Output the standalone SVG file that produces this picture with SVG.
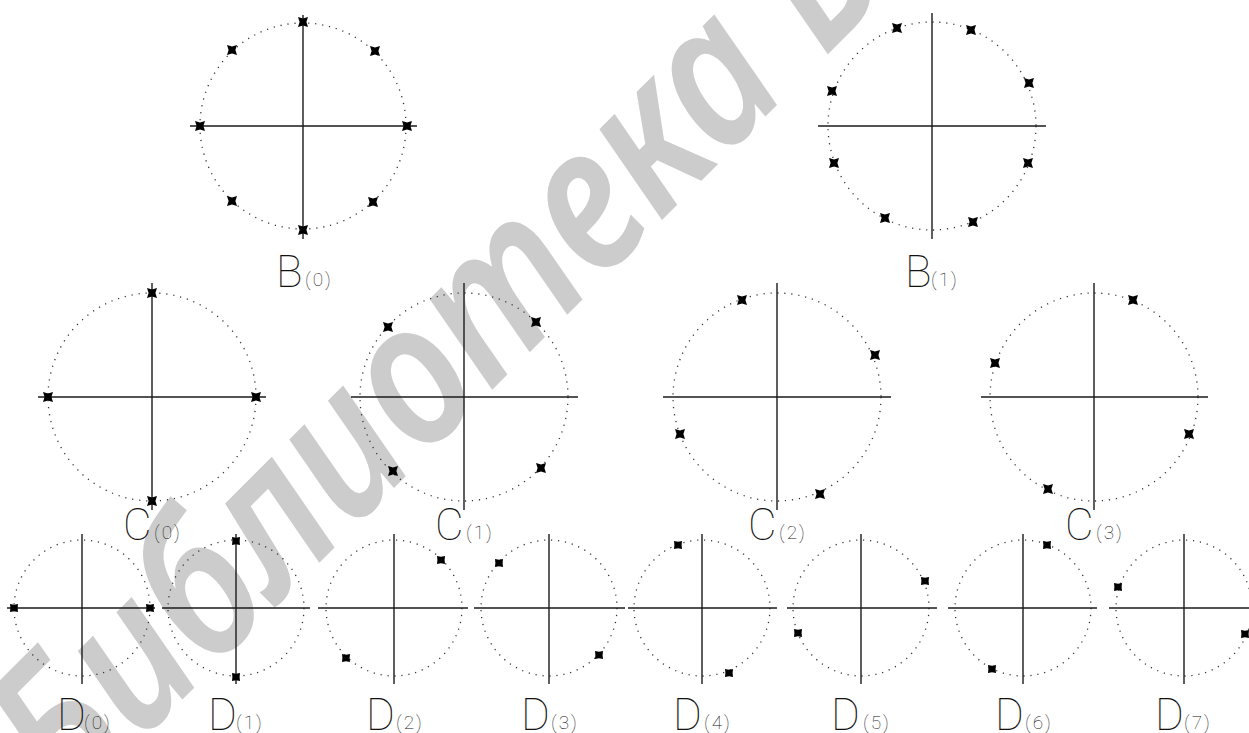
<svg xmlns="http://www.w3.org/2000/svg" xmlns:xlink="http://www.w3.org/1999/xlink" width="1249" height="733" viewBox="0 0 1249 733">
<style>
.ax{stroke:#1a1a1a;stroke-width:1.4;fill:none}
.dc{stroke:#333;stroke-width:1.3;fill:none;stroke-dasharray:1.2 5.8}
.big{font-family:Roboto,"Lato","DejaVu Sans",sans-serif;font-weight:100;font-size:44px;fill:#111}
.sub{font-family:Roboto,"Lato","DejaVu Sans",sans-serif;font-weight:100;font-size:19px;letter-spacing:2px;fill:#111}
.wm{font-family:"Noto Sans","Liberation Sans",sans-serif;font-style:italic;font-weight:600;font-size:200px;fill:#cccccc}
</style>
<defs>
<path id="x" d="M-5,-5 L0,-3.4 L5,-5 L3.4,0 L5,5 L0,3.4 L-5,5 L-3.4,0 Z" fill="#000"/>
<path id="s" d="M-4,-4 L0,-3.2 L4,-4 L3.6,0 L4,4 L0,3.2 L-4,4 L-3.6,0 Z" fill="#000"/>
</defs>
<rect width="1249" height="733" fill="#fff"/>
<text class="wm" transform="translate(69 813) rotate(-45) scale(0.86 1)">Библиотека БГУИР</text>

<g id="B0">
<circle class="dc" cx="303" cy="126" r="103"/>
<line class="ax" x1="190" y1="126" x2="417" y2="126"/><line class="ax" x1="303" y1="15" x2="303" y2="239"/>
<use xlink:href="#x" x="303" y="22"/><use xlink:href="#x" x="375" y="51"/><use xlink:href="#x" x="407" y="126"/><use xlink:href="#x" x="373" y="202"/>
<use xlink:href="#x" x="303" y="230"/><use xlink:href="#x" x="232" y="201"/><use xlink:href="#x" x="200" y="126"/><use xlink:href="#x" x="232" y="50"/>
<text y="287"><tspan class="big" x="276">B</tspan><tspan class="sub" x="305" dy="-1">(0)</tspan></text>
</g>
<g id="B1">
<circle class="dc" cx="932" cy="126" r="104"/>
<line class="ax" x1="818" y1="126" x2="1046" y2="126"/><line class="ax" x1="932" y1="13" x2="932" y2="239"/>
<use xlink:href="#x" x="897" y="28"/><use xlink:href="#x" x="971" y="30"/><use xlink:href="#x" x="1029" y="83"/><use xlink:href="#x" x="832" y="91"/>
<use xlink:href="#x" x="834" y="163"/><use xlink:href="#x" x="1028" y="163"/><use xlink:href="#x" x="885" y="218"/><use xlink:href="#x" x="973" y="222"/>
<text y="287"><tspan class="big" x="905">B</tspan><tspan class="sub" x="931" dy="-1">(1)</tspan></text>
</g>

<g id="C0">
<circle class="dc" cx="152" cy="397" r="104"/>
<line class="ax" x1="38" y1="397" x2="266" y2="397"/><line class="ax" x1="152" y1="283" x2="152" y2="510"/>
<use xlink:href="#x" x="48" y="397"/><use xlink:href="#x" x="256" y="397"/><use xlink:href="#x" x="152" y="293"/><use xlink:href="#x" x="152" y="501"/>
<text y="540"><tspan class="big" x="123">C</tspan><tspan class="sub" x="154" dy="-1">(0)</tspan></text>
</g>
<g id="C1">
<circle class="dc" cx="464" cy="397" r="104"/>
<line class="ax" x1="351" y1="397" x2="578" y2="397"/><line class="ax" x1="464" y1="283" x2="464" y2="510"/>
<use xlink:href="#x" x="388" y="327"/><use xlink:href="#x" x="536" y="322"/><use xlink:href="#x" x="393" y="471"/><use xlink:href="#x" x="541" y="468"/>
<text y="540"><tspan class="big" x="435">C</tspan><tspan class="sub" x="466" dy="-1">(1)</tspan></text>
</g>
<g id="C2">
<circle class="dc" cx="777" cy="397" r="104"/>
<line class="ax" x1="663" y1="397" x2="891" y2="397"/><line class="ax" x1="777" y1="283" x2="777" y2="510"/>
<use xlink:href="#x" x="742" y="300"/><use xlink:href="#x" x="875" y="355"/><use xlink:href="#x" x="680" y="434"/><use xlink:href="#x" x="820" y="494"/>
<text y="540"><tspan class="big" x="748">C</tspan><tspan class="sub" x="779" dy="-1">(2)</tspan></text>
</g>
<g id="C3">
<circle class="dc" cx="1094" cy="397" r="104"/>
<line class="ax" x1="981" y1="397" x2="1208" y2="397"/><line class="ax" x1="1094" y1="283" x2="1094" y2="510"/>
<use xlink:href="#x" x="1133" y="300"/><use xlink:href="#x" x="995" y="363"/><use xlink:href="#x" x="1189" y="434"/><use xlink:href="#x" x="1048" y="489"/>
<text y="540"><tspan class="big" x="1065">C</tspan><tspan class="sub" x="1096" dy="-1">(3)</tspan></text>
</g>

<g id="D0">
<circle class="dc" cx="82" cy="608" r="68"/>
<line class="ax" x1="7" y1="608" x2="155" y2="608"/><line class="ax" x1="82" y1="534" x2="82" y2="684"/>
<use xlink:href="#s" x="14" y="608"/><use xlink:href="#s" x="150" y="608"/>
<text y="730"><tspan class="big" x="57">D</tspan><tspan class="sub" x="84" dy="-1">(0)</tspan></text>
</g>
<g id="D1">
<circle class="dc" cx="236" cy="608" r="68"/>
<line class="ax" x1="162" y1="608" x2="310" y2="608"/><line class="ax" x1="236" y1="534" x2="236" y2="684"/>
<use xlink:href="#s" x="236" y="541"/><use xlink:href="#s" x="236" y="677"/>
<text y="730"><tspan class="big" x="208">D</tspan><tspan class="sub" x="236" dy="-1">(1)</tspan></text>
</g>
<g id="D2">
<circle class="dc" cx="394" cy="608" r="68"/>
<line class="ax" x1="318" y1="608" x2="468" y2="608"/><line class="ax" x1="394" y1="534" x2="394" y2="684"/>
<use xlink:href="#s" x="441" y="560"/><use xlink:href="#s" x="346" y="658"/>
<text y="730"><tspan class="big" x="366">D</tspan><tspan class="sub" x="396" dy="-1">(2)</tspan></text>
</g>
<g id="D3">
<circle class="dc" cx="549" cy="608" r="68"/>
<line class="ax" x1="474" y1="608" x2="625" y2="608"/><line class="ax" x1="549" y1="534" x2="549" y2="684"/>
<use xlink:href="#s" x="499" y="563"/><use xlink:href="#s" x="599" y="655"/>
<text y="730"><tspan class="big" x="521">D</tspan><tspan class="sub" x="551" dy="-1">(3)</tspan></text>
</g>
<g id="D4">
<circle class="dc" cx="702" cy="608" r="68"/>
<line class="ax" x1="628" y1="608" x2="777" y2="608"/><line class="ax" x1="702" y1="534" x2="702" y2="684"/>
<use xlink:href="#s" x="678" y="545"/><use xlink:href="#s" x="729" y="673"/>
<text y="730"><tspan class="big" x="673">D</tspan><tspan class="sub" x="704" dy="-1">(4)</tspan></text>
</g>
<g id="D5">
<circle class="dc" cx="861" cy="608" r="68"/>
<line class="ax" x1="787" y1="608" x2="937" y2="608"/><line class="ax" x1="861" y1="534" x2="861" y2="684"/>
<use xlink:href="#s" x="925" y="581"/><use xlink:href="#s" x="798" y="633"/>
<text y="730"><tspan class="big" x="831">D</tspan><tspan class="sub" x="863" dy="-1">(5)</tspan></text>
</g>
<g id="D6">
<circle class="dc" cx="1023" cy="608" r="68"/>
<line class="ax" x1="948" y1="608" x2="1097" y2="608"/><line class="ax" x1="1023" y1="534" x2="1023" y2="684"/>
<use xlink:href="#s" x="1047" y="545"/><use xlink:href="#s" x="992" y="669"/>
<text y="730"><tspan class="big" x="995">D</tspan><tspan class="sub" x="1025" dy="-1">(6)</tspan></text>
</g>
<g id="D7">
<circle class="dc" cx="1184" cy="608" r="68"/>
<line class="ax" x1="1109" y1="608" x2="1258" y2="608"/><line class="ax" x1="1184" y1="534" x2="1184" y2="684"/>
<use xlink:href="#s" x="1118" y="587"/><use xlink:href="#s" x="1245" y="634"/>
<text y="730"><tspan class="big" x="1155">D</tspan><tspan class="sub" x="1184" dy="-1">(7)</tspan></text>
</g>
</svg>
